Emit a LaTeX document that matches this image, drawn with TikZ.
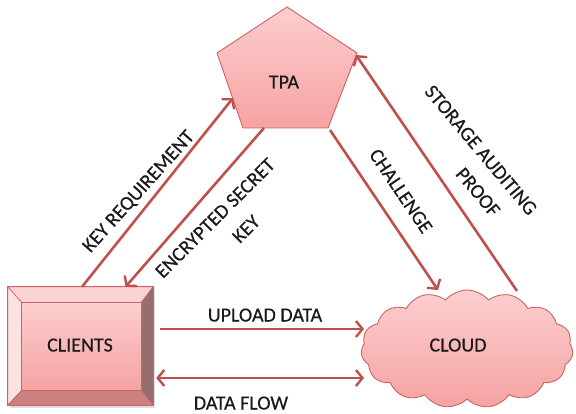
\documentclass[tikz,border=0pt]{standalone}
\usepackage{fontspec}
\setmainfont{Carlito}[FakeBold=0.35]
\usetikzlibrary{arrows.meta,shapes.symbols,calc}
\definecolor{arrowc}{RGB}{192,80,77}
\definecolor{edgec}{RGB}{205,100,98}
\definecolor{txtc}{RGB}{25,25,30}
\definecolor{pinktop}{RGB}{252,206,206}
\definecolor{pinkbot}{RGB}{246,162,162}
\definecolor{bevtop}{RGB}{250,210,210}
\definecolor{bevleft}{RGB}{253,226,226}
\definecolor{bevright}{RGB}{150,110,110}
\definecolor{bevbot}{RGB}{205,128,128}
\tikzset{
  flow/.style={draw=arrowc, line width=2.6pt, -{Straight Barb[length=6.5pt,width=16pt,line width=2.4pt]}},
  flowboth/.style={draw=arrowc, line width=2.6pt, {Straight Barb[length=6.5pt,width=16pt,line width=2.4pt]}-{Straight Barb[length=6.5pt,width=16pt,line width=2.4pt]}},
  lbl/.style={text=txtc, inner sep=0pt, text height=13pt, text depth=0pt, font=\fontsize{20}{24}\selectfont},
  pinkfill/.style={top color=pinktop, bottom color=pinkbot, draw=edgec, line width=0.9pt},
  bevel/.style={draw=edgec, line width=0.6pt}
}
\begin{document}
\begin{tikzpicture}[x=1pt,y=-1pt]
\useasboundingbox (0,0) rectangle (576,414);
% TPA pentagon
\coordinate (p1) at (287,7);
\coordinate (p2) at (357,53);
\coordinate (p3) at (328,128);
\coordinate (p4) at (243,128);
\coordinate (p5) at (217,53);
\path[pinkfill] (p1) -- (p2) -- (p3) -- (p4) -- (p5) -- cycle;
\node[lbl] (tpa) at (284,82) {TPA};
% CLIENTS bevelled box
\node[minimum width=145pt, minimum height=118pt, inner sep=0pt] (clients) at (80.5,346) {};
\coordinate (ci1) at ($(clients.north west)+(14,16)$);
\coordinate (ci2) at ($(clients.north east)+(-12,16)$);
\coordinate (ci3) at ($(clients.south east)+(-12,-15)$);
\coordinate (ci4) at ($(clients.south west)+(14,-15)$);
\fill[black!12] ($(clients.north west)+(2,2)$) rectangle ($(clients.south east)+(2,3)$);
\path[bevel, fill=bevtop] (clients.north west) -- (clients.north east) -- (ci2) -- (ci1) -- cycle;
\path[bevel, fill=bevleft] (clients.north west) -- (ci1) -- (ci4) -- (clients.south west) -- cycle;
\path[bevel, fill=bevright] (clients.north east) -- (clients.south east) -- (ci3) -- (ci2) -- cycle;
\path[bevel, fill=bevbot] (clients.south west) -- (ci4) -- (ci3) -- (clients.south east) -- cycle;
\path[pinkfill, line width=0.8pt] (ci1) rectangle (ci3);
\draw[edgec, line width=0.9pt] (clients.north west) rectangle (clients.south east);
\node[lbl] (clientstxt) at (80,345) {CLIENTS};
% CLOUD
\node[cloud, cloud puffs=15, cloud puff arc=100, aspect=1.9, minimum width=212pt, minimum height=118pt, inner sep=0pt, pinkfill] (cloud) at (467,349) {};
\node[lbl] (cloudtxt) at (458,345) {CLOUD};
% connector end points
\coordinate (krS) at ($(clients.north)+(1.5,0)$);
\coordinate (krE) at (233,98);
\coordinate (ekS) at (264,128);
\coordinate (ekE) at ($(clients.north)+(45,0)$);
\coordinate (chS) at (330,130);
\coordinate (chE) at (438,290);
\coordinate (saS) at (517,291);
\coordinate (saE) at (356,55);
\coordinate (upS) at ($(clients.east)+(7,-17)$);
\coordinate (upE) at (364,329);
\coordinate (dfS) at ($(clients.east)+(3,32)$);
\coordinate (dfE) at (364,378);
% arrows
\draw[flow] (krS) -- (krE);
\draw[flow] (ekS) -- (ekE);
\draw[flow] (chS) -- (chE);
\draw[flow] (saS) -- (saE);
\draw[flow] (upS) -- (upE);
\draw[flowboth] (dfS) -- (dfE);
% labels
\node[lbl, rotate=48] (lkr) at (138,191) {KEY REQUIREMENT};
\node[lbl, rotate=45] (lek1) at (215,218) {ENCRYPTED SECRET};
\node[lbl, rotate=45] (lek2) at (246,229) {KEY};
\node[lbl, rotate=-56] (lch) at (401,191) {CHALLENGE};
\node[lbl, rotate=-50] (lsa1) at (481,150) {STORAGE AUDITING};
\node[lbl, rotate=-50] (lsa2) at (478,192) {PROOF};
\node[lbl] (lup) at (265,315) {UPLOAD DATA};
\node[lbl] (ldf) at (241,403) {DATA FLOW};
\end{tikzpicture}
\end{document}
